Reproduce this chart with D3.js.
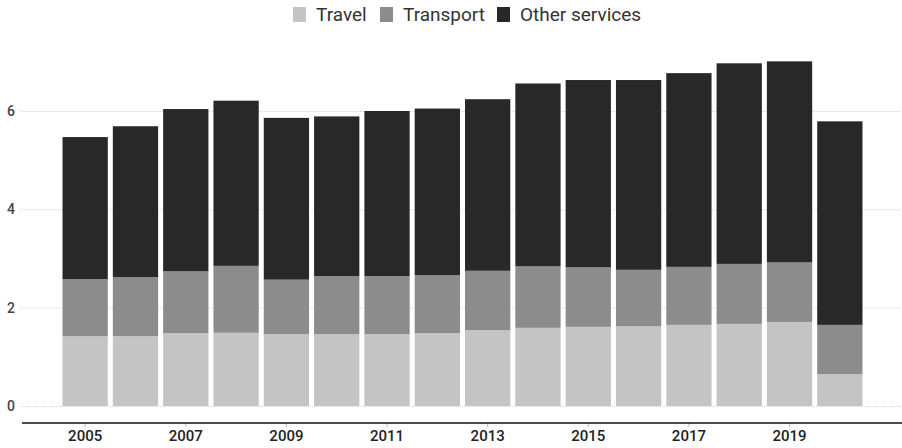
<!DOCTYPE html>
<html>
<head>
<meta charset="utf-8">
<script src="https://cdn.jsdelivr.net/npm/d3@7"></script>
<style>
  body { margin: 0; background: #fff; }
  text { font-family: Roboto, "Noto Sans", sans-serif; }
</style>
</head>
<body>
<svg id="chart" width="902" height="448"></svg>
<script>
// data
var years = [2005, 2006, 2007, 2008, 2009, 2010, 2011, 2012, 2013, 2014, 2015, 2016, 2017, 2018, 2019, 2020];
var travel    = [1.42, 1.42, 1.48, 1.49, 1.46, 1.46, 1.46, 1.48, 1.54, 1.59, 1.61, 1.62, 1.65, 1.67, 1.71, 0.65];
var transport = [1.16, 1.20, 1.26, 1.36, 1.11, 1.18, 1.18, 1.18, 1.21, 1.25, 1.21, 1.15, 1.18, 1.22, 1.21, 1.00];
var other     = [2.89, 3.07, 3.30, 3.36, 3.29, 3.25, 3.36, 3.39, 3.49, 3.72, 3.81, 3.86, 3.94, 4.08, 4.09, 4.14];
var seriesNames = ["Travel", "Transport", "Other services"];
var seriesColors = ["#c4c4c4", "#8c8c8c", "#282828"];
var yTicks = [0, 2, 4, 6];
var xTickYears = [2005, 2007, 2009, 2011, 2013, 2015, 2017, 2019];

var svg = d3.select("#chart");

var rows = years.map(function(y, i) {
    return { year: y, "Travel": travel[i], "Transport": transport[i], "Other services": other[i] };
});

var x = d3.scaleBand()
    .domain(years)
    .range([60, 865])
    .paddingInner(0.1)
    .paddingOuter(0.05);

var y = d3.scaleLinear()
    .domain([0, 6])
    .range([406, 111]);

// gridlines
svg.append("g").selectAll("line")
    .data(yTicks)
    .enter().append("line")
    .attr("x1", 20).attr("x2", 902)
    .attr("y1", function(d) { return y(d) + 0.5; })
    .attr("y2", function(d) { return y(d) + 0.5; })
    .style("stroke", "#d6d6d6")
    .style("stroke-width", 1)
    .style("stroke-dasharray", "1,1");

svg.append("g").selectAll("text")
    .data(yTicks)
    .enter().append("text")
    .attr("x", 7)
    .attr("y", function(d) { return y(d); })
    .attr("dy", "0.35em")
    .style("font-size", "14px")
    .style("font-weight", 500)
    .style("fill", "#444")
    .text(function(d) { return d; });

// stacked bars
var stack = d3.stack().keys(seriesNames);
var layers = stack(rows);

svg.append("g").selectAll("g")
    .data(layers)
    .enter().append("g")
    .style("fill", function(d, i) { return seriesColors[i]; })
    .selectAll("rect")
    .data(function(d) { return d; })
    .enter().append("rect")
    .attr("x", function(d) { return x(d.data.year); })
    .attr("width", x.bandwidth())
    .attr("y", function(d) { return y(d[1]); })
    .attr("height", function(d) { return y(d[0]) - y(d[1]); });

// x axis
var xAxis = d3.axisBottom(x)
    .tickValues(xTickYears)
    .tickSize(4)
    .tickPadding(3);

var gx = svg.append("g")
    .attr("transform", "translate(0,423)")
    .call(xAxis);
gx.select(".domain").remove();
gx.append("line")
    .attr("x1", 22).attr("x2", 902)
    .attr("y1", 0).attr("y2", 0)
    .style("stroke", "#111")
    .style("stroke-width", 1.5);
gx.selectAll(".tick line").style("stroke", "#bbb");
gx.selectAll(".tick text")
    .style("font-size", "15px")
    .style("font-weight", 500)
    .style("fill", "#222")
    .style("font-family", "Roboto, sans-serif");

// legend
var legendX = [293, 380, 497];
var legend = svg.append("g").selectAll("g")
    .data(seriesNames)
    .enter().append("g")
    .attr("transform", function(d, i) { return "translate(" + legendX[i] + ",7)"; });
legend.append("rect")
    .attr("width", 13).attr("height", 15)
    .style("fill", function(d, i) { return seriesColors[i]; });
legend.append("text")
    .attr("x", 23).attr("y", 7.5)
    .attr("dy", "0.36em")
    .style("font-size", "19px")
    .style("fill", "#333")
    .text(function(d) { return d; });
</script>
</body>
</html>
